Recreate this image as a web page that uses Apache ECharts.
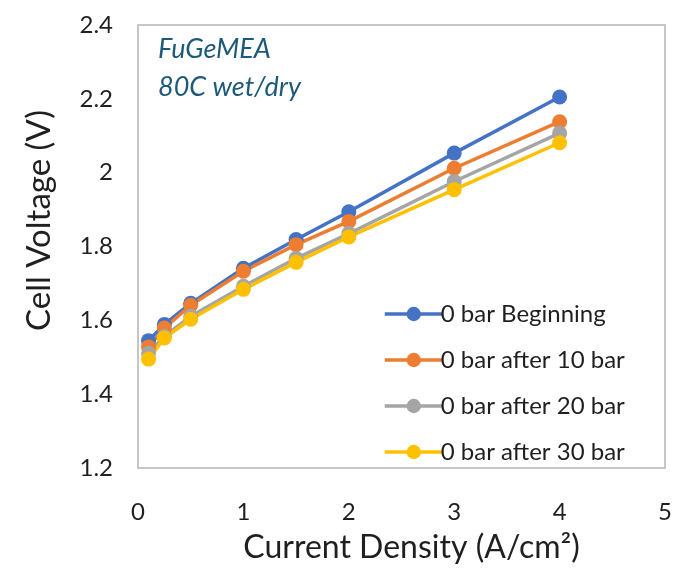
<!DOCTYPE html>
<html>
<head>
<meta charset="utf-8">
<script src="https://cdn.jsdelivr.net/npm/echarts@6/dist/echarts.min.js"></script>
<style>
html,body{margin:0;padding:0;background:#fff;}
#chart{width:675px;height:569px;}
</style>
</head>
<body>
<div id="chart"></div>
<script>
const currentDensity = [0.1, 0.25, 0.5, 1, 1.5, 2, 3, 4];
const seriesNames = ['0 bar Beginning', '0 bar after 10 bar', '0 bar after 20 bar', '0 bar after 30 bar'];
const beginning = [1.545, 1.589, 1.646, 1.741, 1.819, 1.894, 2.053, 2.205];
const after10 = [1.528, 1.579, 1.641, 1.733, 1.805, 1.868, 2.012, 2.138];
const after20 = [1.511, 1.557, 1.611, 1.692, 1.768, 1.835, 1.976, 2.107];
const after30 = [1.495, 1.552, 1.603, 1.684, 1.757, 1.826, 1.954, 2.081];
const colors = ['#4472C4', '#ED7D31', '#A5A5A5', '#FFC000'];
const allValues = [beginning, after10, after20, after30];

const FONT = 'Lato, "Open Sans", sans-serif';
const TEXT = '#1f1f1f';

const chart = echarts.init(document.getElementById('chart'), null, {renderer: 'canvas'});

const series = allValues.map((vals, i) => ({
  name: seriesNames[i],
  type: 'line',
  data: currentDensity.map((x, j) => [x, vals[j]]),
  symbol: 'circle',
  symbolSize: 15,
  lineStyle: {width: 3.5, color: colors[i]},
  itemStyle: {color: colors[i]},
  emphasis: {disabled: true},
  animation: false
}));

chart.setOption({
  animation: false,
  color: colors,
  title: {
    text: 'FuGeMEA\n80C wet/dry',
    left: 153,
    top: 25,
    textStyle: {
      fontFamily: FONT,
      fontStyle: 'italic',
      fontWeight: 'normal',
      fontSize: 27,
      lineHeight: 38,
      color: '#1d5a7a'
    }
  },
  grid: {
    left: 138, top: 25, width: 531, height: 445,
    show: true,
    borderColor: '#c6c6c6',
    borderWidth: 2,
    backgroundColor: '#fff'
  },
  legend: {
    orient: 'vertical',
    left: 378,
    top: 297,
    itemWidth: 58,
    itemHeight: 18,
    itemGap: 22,
    data: seriesNames,
    lineStyle: {width: 3.5},
    textStyle: {fontFamily: FONT, fontSize: 24, color: TEXT, padding: [0,0,0,-7]}
  },
  xAxis: {
    type: 'value',
    min: 0, max: 5, interval: 1,
    name: 'Current Density (A/cm²)',
    nameLocation: 'middle',
    nameGap: 64,
    nameTextStyle: {fontFamily: FONT, fontSize: 32, color: TEXT, padding: [0,0,0,20]},
    axisLine: {show: false},
    axisTick: {show: false},
    splitLine: {show: false},
    axisLabel: {fontFamily: FONT, fontSize: 24, color: TEXT, margin: 32}
  },
  yAxis: {
    type: 'value',
    min: 1.2, max: 2.4, interval: 0.2,
    name: 'Cell Voltage (V)',
    nameLocation: 'middle',
    nameGap: 82,
    nameTextStyle: {fontFamily: FONT, fontSize: 33, color: TEXT, padding: [0,0,0,52]},
    axisLine: {show: false},
    axisTick: {show: false},
    splitLine: {show: false},
    axisLabel: {fontFamily: FONT, fontSize: 24, color: TEXT, margin: 25}
  },
  series: series
});
</script>
</body>
</html>
